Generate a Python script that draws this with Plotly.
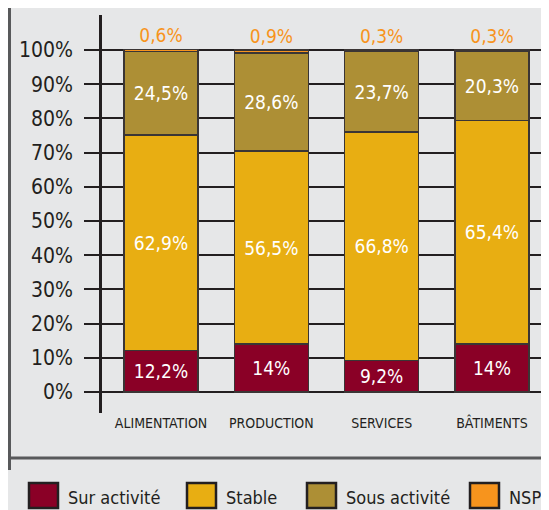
import plotly.graph_objects as go

categories = ["ALIMENTATION", "PRODUCTION", "SERVICES", "BÂTIMENTS"]
sur_activite = [12.2, 14, 9.2, 14]
stable = [62.9, 56.5, 66.8, 65.4]
sous_activite = [24.5, 28.6, 23.7, 20.3]
nsp = [0.6, 0.9, 0.3, 0.3]
series_names = ["Sur activité", "Stable", "Sous activité", "NSP"]
y_ticks = [0, 10, 20, 30, 40, 50, 60, 70, 80, 90, 100]

colors = ["#8a0026", "#e8ae12", "#ad8f35", "#f7941d"]
FONT = "DejaVu Sans Condensed"
DARK = "#231f20"
# page has an 8px body margin; figure is sized so that it fills the 549x510 window
W, H = 541, 502
ML, MT, MR, MB = 94, 7, 0, 97
PW, PH = W - ML - MR, H - MT - MB


def fmt(v):
    return f"{v:g}".replace(".", ",") + "%"


def xp(px):
    return (px - ML) / PW


def yp(py):
    return (H - MB - py) / PH


fig = go.Figure()
all_series = [sur_activite, stable, sous_activite, nsp]
for i, (name, vals) in enumerate(zip(series_names, all_series)):
    last = i == len(all_series) - 1
    fig.add_trace(go.Bar(
        x=categories, y=vals, name=name,
        marker=dict(color=colors[i], line=dict(color="#3a3535", width=1.5)),
        text=[fmt(v) for v in vals],
        textposition="outside" if last else "inside",
        insidetextanchor="middle",
        textfont=dict(family=FONT, size=19, color=colors[i] if last else "white"),
        cliponaxis=False,
        showlegend=False,
    ))

shapes = []
# frame lines
shapes.append(dict(type="line", xref="paper", yref="paper", x0=xp(1.5), x1=xp(1.5), y0=yp(-8), y1=yp(462),
                   line=dict(color="#58595b", width=3)))
shapes.append(dict(type="line", xref="paper", yref="paper", x0=xp(0), x1=xp(541), y0=yp(450), y1=yp(450),
                   line=dict(color="#58595b", width=3)))

annotations = []
legend_x = [21, 179, 299, 462]
for i, name in enumerate(series_names):
    x0 = legend_x[i]
    shapes.append(dict(type="rect", xref="paper", yref="paper",
                       x0=xp(x0), x1=xp(x0 + 29), y0=yp(475), y1=yp(500),
                       fillcolor=colors[i], line=dict(color=DARK, width=2.5)))
    annotations.append(dict(xref="paper", yref="paper", x=xp(x0 + 37), y=yp(489),
                            text=name, showarrow=False, xanchor="left", yanchor="middle",
                            font=dict(family=FONT, size=18, color=DARK)))

fig.update_layout(
    width=W, height=H,
    margin=dict(l=ML, r=MR, t=MT, b=MB),
    paper_bgcolor="#e6e7e8", plot_bgcolor="#e6e7e8",
    barmode="stack", bargap=0.33,
    shapes=shapes, annotations=annotations,
    uniformtext=dict(minsize=19, mode="show"),
    font=dict(family=FONT, color=DARK),
)
fig.update_xaxes(range=[-0.535, 3.517], showgrid=False, showline=False, ticks="",
                 tickfont=dict(family=FONT, size=14, color=DARK), fixedrange=True)
fig.update_yaxes(range=[-6.14, 110.23], tickvals=y_ticks, ticktext=[f"{t}%" for t in y_ticks],
                 showgrid=True, gridcolor=DARK, gridwidth=2, zeroline=False,
                 showline=True, linecolor=DARK, linewidth=2.5,
                 ticks="outside", ticklen=15, tickwidth=2, tickcolor=DARK,
                 ticklabelstandoff=7,
                 tickfont=dict(family=FONT, size=21, color=DARK))

fig.write_html("out.html")
